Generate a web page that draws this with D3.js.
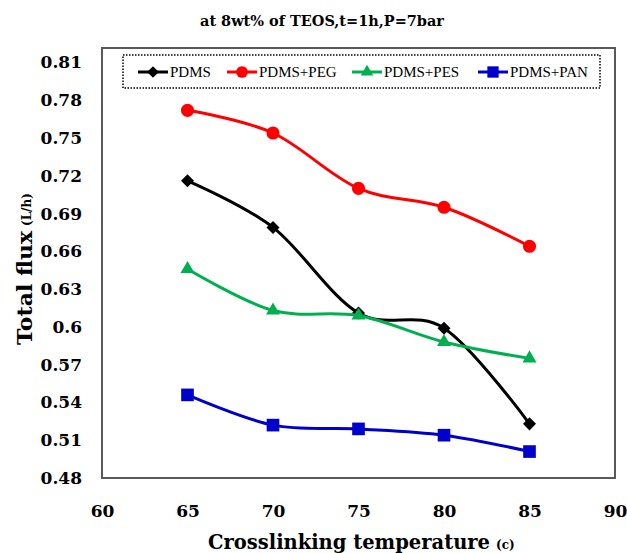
<!DOCTYPE html>
<html>
<head>
<meta charset="utf-8">
<script src="https://cdn.jsdelivr.net/npm/d3@7"></script>
<style>
  body { margin: 0; background: #fff; }
  text { font-family: "DejaVu Serif", "Liberation Serif", serif; font-weight: bold; }
  text.leg { font-family: "Liberation Serif", serif; font-weight: normal; }
</style>
</head>
<body>
<svg id="chart"></svg>
<script>
const temps = [65, 70, 75, 80, 85];
const pdms = [0.716, 0.679, 0.611, 0.599, 0.523];
const pdmsPeg = [0.772, 0.754, 0.710, 0.695, 0.664];
const pdmsPes = [0.646, 0.613, 0.609, 0.588, 0.575];
const pdmsPan = [0.546, 0.522, 0.519, 0.514, 0.501];
const yTicks = [0.48, 0.51, 0.54, 0.57, 0.6, 0.63, 0.66, 0.69, 0.72, 0.75, 0.78, 0.81];
const xTicks = [60, 65, 70, 75, 80, 85, 90];

const series = [
  { name: "PDMS", values: pdms, color: "#000000", symbol: d3.symbolSquare, size: 85, rot: 45 },
  { name: "PDMS+PEG", values: pdmsPeg, color: "#FF0000", symbol: d3.symbolCircle, size: 135, rot: 0 },
  { name: "PDMS+PES", values: pdmsPes, color: "#00B050", symbol: d3.symbolTriangle, size: 85, rot: 0 },
  { name: "PDMS+PAN", values: pdmsPan, color: "#0000CC", symbol: d3.symbolSquare, size: 160, rot: 0 }
];

const width = 627, height = 553;
const margin = { top: 48, right: 12, bottom: 75, left: 102 };

const svg = d3.select("#chart").attr("width", width).attr("height", height);

const x = d3.scaleLinear().domain([60, 90]).range([margin.left, width - margin.right]);
const y = d3.scaleLinear().domain([0.48, 0.8215]).range([height - margin.bottom, margin.top]);

// title
svg.append("text")
  .attr("x", 322).attr("y", 26)
  .attr("text-anchor", "middle")
  .attr("font-size", 14)
  .attr("textLength", 244).attr("lengthAdjust", "spacingAndGlyphs")
  .text("at 8wt% of TEOS,t=1h,P=7bar");

// axes, labels only
const yAxis = svg.append("g")
  .attr("transform", `translate(85,0)`)
  .call(d3.axisLeft(y).tickValues(yTicks).tickSize(0).tickFormat(d => String(+d.toFixed(2))));
yAxis.select(".domain").remove();
yAxis.selectAll("text").attr("font-size", 17).attr("fill", "#000");

const xAxis = svg.append("g")
  .attr("transform", `translate(0,502)`)
  .call(d3.axisBottom(x).tickValues(xTicks).tickSize(0));
xAxis.select(".domain").remove();
xAxis.selectAll("text").attr("font-size", 17).attr("fill", "#000");

// plot frame
svg.append("rect")
  .attr("x", margin.left).attr("y", margin.top)
  .attr("width", width - margin.right - margin.left)
  .attr("height", height - margin.bottom - margin.top)
  .attr("fill", "none").attr("stroke", "#595959").attr("stroke-width", 2);

// axis titles (main part and small unit kept as separate texts)
svg.append("text")
  .attr("transform", "translate(32,345) rotate(-90)")
  .attr("font-size", 21)
  .attr("textLength", 114).attr("lengthAdjust", "spacingAndGlyphs")
  .text("Total flux");
svg.append("text")
  .attr("transform", "translate(31,226) rotate(-90)")
  .attr("font-size", 12)
  .text("(L/h)");

svg.append("text")
  .attr("x", 208).attr("y", 549)
  .attr("font-size", 20)
  .attr("textLength", 282).attr("lengthAdjust", "spacingAndGlyphs")
  .text("Crosslinking temperature");
svg.append("text")
  .attr("x", 496).attr("y", 549)
  .attr("font-size", 12)
  .text("(c)");

// lines and markers
const line = d3.line()
  .x((d, i) => x(temps[i]))
  .y(d => y(d))
  .curve(d3.curveCatmullRom.alpha(0));

series.forEach(s => {
  svg.append("path")
    .datum(s.values)
    .attr("d", line)
    .attr("fill", "none")
    .attr("stroke", s.color)
    .attr("stroke-width", 3);
  svg.append("g").selectAll("path")
    .data(s.values)
    .join("path")
    .attr("transform", (d, i) => `translate(${x(temps[i])},${y(d)}) rotate(${s.rot})`)
    .attr("d", d3.symbol().type(s.symbol).size(s.size))
    .attr("fill", s.color);
});

// legend
svg.append("rect")
  .attr("x", 123).attr("y", 55).attr("width", 477).attr("height", 33)
  .attr("fill", "#fff").attr("stroke", "#000").attr("stroke-width", 1.5)
  .attr("stroke-dasharray", "1.5,1.5");

const legendX = [138, 227, 352, 478];
series.forEach((s, i) => {
  const g = svg.append("g").attr("transform", `translate(${legendX[i]},72)`);
  g.append("line").attr("x1", 0).attr("x2", 30).attr("stroke", s.color).attr("stroke-width", 3);
  g.append("path").attr("transform", `translate(15,0) rotate(${s.rot})`)
    .attr("d", d3.symbol().type(s.symbol).size(s.size * 0.8)).attr("fill", s.color);
  g.append("text").attr("class", "leg").attr("x", 32).attr("y", 5)
    .attr("font-size", 15)
    .text(s.name);
});
</script>
</body>
</html>
